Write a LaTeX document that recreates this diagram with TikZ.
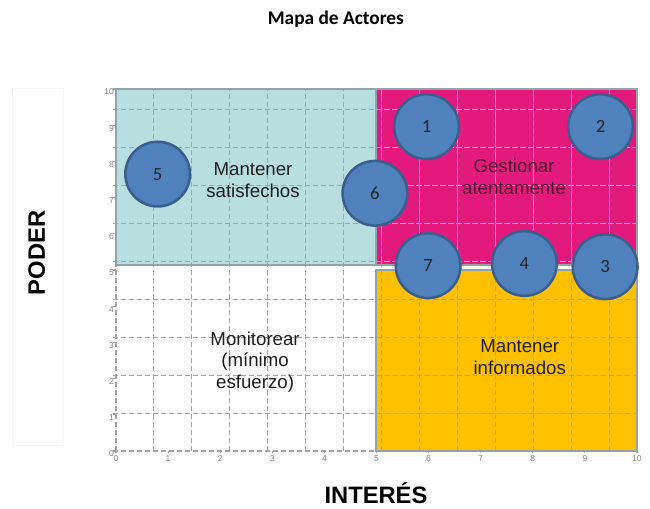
\documentclass[tikz,border=0pt]{standalone}
\usepackage{fontspec}
\setmainfont{Liberation Sans}
\newfontfamily\calfont{Carlito}
\usetikzlibrary{positioning}
\definecolor{satcol}{HTML}{B8DFE0}
\definecolor{gescol}{HTML}{E31A7C}
\definecolor{infcol}{HTML}{FFC000}
\definecolor{edgecol}{HTML}{93A3AA}
\definecolor{gridcol}{HTML}{A3A3A3}
\definecolor{gridpink}{HTML}{F29AC4}
\definecolor{actorfill}{HTML}{4F81BD}
\definecolor{actorline}{HTML}{3A5F8C}
\definecolor{zonetext}{HTML}{1E1E1E}
\definecolor{gestext}{HTML}{4A0F2E}

\begin{document}
\begin{tikzpicture}[x=39.075pt,y=27.15pt]
\tikzstyle{actor}=[circle,draw=actorline,fill=actorfill,line width=1.9pt,
minimum size=48.5pt,inner sep=0pt,text=black!85,
font=\calfont\fontsize{14}{14}\selectfont]
\tikzstyle{zone}=[align=center,text=zonetext,
font=\fontsize{14}{16.3}\selectfont]
\tikzstyle{tick}=[inner sep=1pt,text=black!50,font=\fontsize{6.4}{7}\selectfont]
\tikzstyle{axislabel}=[inner sep=0pt,font=\bfseries\fontsize{17.8}{20}\selectfont]
\tikzstyle{gridline}=[gridcol,line width=0.8pt,dash pattern=on 4pt off 2pt]

\useasboundingbox (-2.2265,-1.575) rectangle (10.25,12.459);

% zones
\fill[satcol] (0,5.14) rectangle (5,10);
\fill[gescol] (5,5.14) rectangle (10,10);
\fill[infcol] (5,0) rectangle (10,5);

% dashed grid
\draw[gridline] (-0.06,0) grid (10,10);
\foreach \k in {0,...,10} {
  \draw[gridline] (\k,-0.06) -- (\k,0);
  \draw[gridline] (-0.06,\k) -- (0,\k);
}
\begin{scope}
\clip (5,5.14) rectangle (10,10);
\draw[gridline,gridpink] (5,5) grid (10,10);
\end{scope}

\draw[edgecol,line width=1.5pt] (0,5.14) rectangle (5,10);
\draw[edgecol,line width=1.5pt] (5,5.14) rectangle (10,10);
\draw[edgecol,line width=1.5pt] (5,0) rectangle (10,5);

% axis numbers
\foreach \k in {0,...,10} {
  \node[tick,anchor=east] (ly\k) at (-0.01,\k-0.08) {\k};
  \node[tick,anchor=north] (lx\k) at (\k,-0.09) {\k};
}

% zone labels
\node[zone] (zsat) at (2.63,7.49) {Mantener\\satisfechos};
\node[zone,text=gestext] (zges) at (7.64,7.57) {Gestionar\\atentamente};
\node[zone] (zmon) at (2.67,2.46) {Monitorear\\(mínimo\\esfuerzo)};
\node[zone] (zinf) at (7.75,2.60) {Mantener\\informados};

% actors
\node[actor] (a1) at (5.96,8.96) {1};
\node[actor] (a2) at (9.30,8.96) {2};
\node[actor] (a6) at (4.97,7.12) {6};
\node[actor] (a7) at (5.99,5.12) {7};
\node[actor] (a4) at (7.84,5.18) {4};
\node[actor] (a3) at (9.39,5.09) {3};
\node[actor] (a5) at (0.80,7.65) {5};

% titles
\draw[black!4] (-2.00,0.17) rectangle (-1.02,10.03);
\node[font=\calfont\bfseries\fontsize{14.5}{16}\selectfont] (title) at (4.22,11.93) {Mapa de Actores};
\node[axislabel,rotate=90] (poder) at (-1.52,5.47) {PODER};
\node[axislabel] (interes) at (4.99,-1.17) {INTERÉS};

\end{tikzpicture}
\end{document}
